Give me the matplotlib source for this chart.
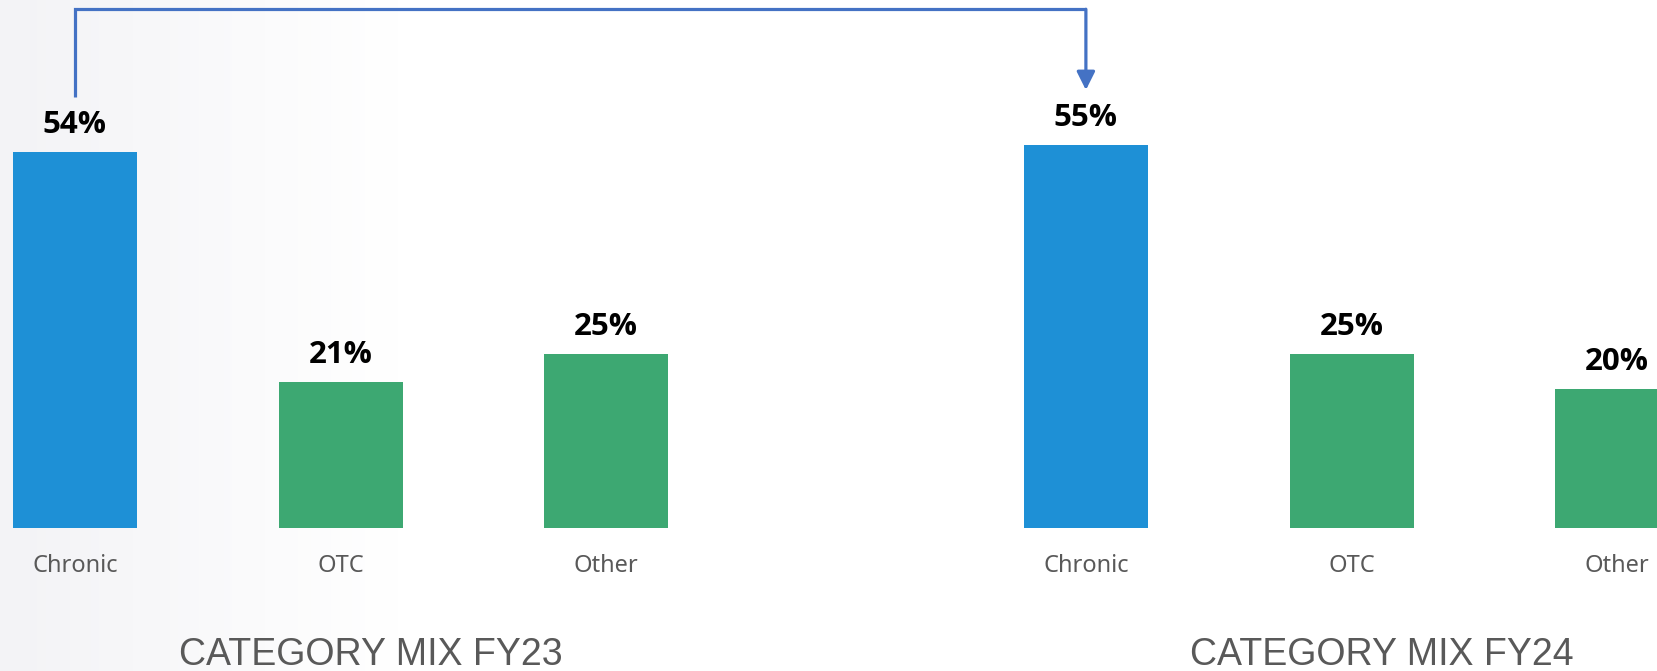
import numpy as np
import matplotlib
matplotlib.use("Agg")
import matplotlib.pyplot as plt

categories = ["Chronic", "OTC", "Other"]
fy23_values = [54, 21, 25]
fy24_values = [55, 25, 20]
group_titles = ["CATEGORY MIX FY23", "CATEGORY MIX FY24"]

BLUE = "#1E90D6"
GREEN = "#3DA872"
bar_colors = [BLUE, GREEN, GREEN]
LINK = "#4472C4"
GRAY = "#595959"

fig = plt.figure(figsize=(16.57, 6.71), dpi=100)

# faint grey fade on the left edge
bg = fig.add_axes([0, 0, 1, 1], zorder=0)
grad = np.linspace(0, 1, 400)
grad = np.clip(grad / 0.24, 0, 1)[None, :]
bg.imshow(grad, aspect="auto", cmap=matplotlib.colors.LinearSegmentedColormap.from_list(
    "fade", ["#F3F3F6", "#FFFFFF"]), extent=[0, 1, 0, 1])
bg.axis("off")

ax = fig.add_axes([0, 0, 1, 1], zorder=1)
ax.patch.set_alpha(0)

group_gap = 3.806
width = 0.467
pos23 = np.arange(len(categories))
pos24 = pos23 + group_gap

for pos, vals, title in [(pos23, fy23_values, group_titles[0]),
                         (pos24, fy24_values, group_titles[1])]:
    ax.bar(pos, vals, width=width, color=bar_colors)
    for x, v, name in zip(pos, vals, categories):
        ax.annotate("{}%".format(v), (x, v), xytext=(0, 13.7), textcoords="offset points",
                    ha="center", va="baseline", fontsize=22.5, fontweight="bold",
                    family=["Open Sans", "DejaVu Sans"], color="black")
        ax.annotate(name, (x, 0), xytext=(0, -31.7), textcoords="offset points",
                    ha="center", va="baseline", fontsize=17, family="Noto Sans",
                    color=GRAY)
    ax.annotate(title, (pos[1] + 0.113, 0), xytext=(0, -98.5), textcoords="offset points",
                ha="center", va="baseline", fontsize=27, family="Liberation Sans",
                color=GRAY)

# connector from FY23 chronic to FY24 chronic
lift = 7.9
top = 74.5
x0, y0 = pos23[0], fy23_values[0] + lift
x1, y1 = pos24[0], fy24_values[0] + lift
ax.plot([x0, x0, x1], [y0, top, top], color=LINK, lw=2.3, solid_joinstyle="miter",
        solid_capstyle="butt")
ax.annotate("", xy=(x1, y1), xytext=(x1, top),
            arrowprops=dict(arrowstyle="-|>,head_length=0.5,head_width=0.25",
                            mutation_scale=22, color=LINK, lw=2.3, shrinkA=0, shrinkB=0))

ax.set_xlim(-0.282, 5.956)
ax.set_ylim(-20.54, 75.83)
ax.axis("off")

fig.savefig("out.png", dpi=100)
